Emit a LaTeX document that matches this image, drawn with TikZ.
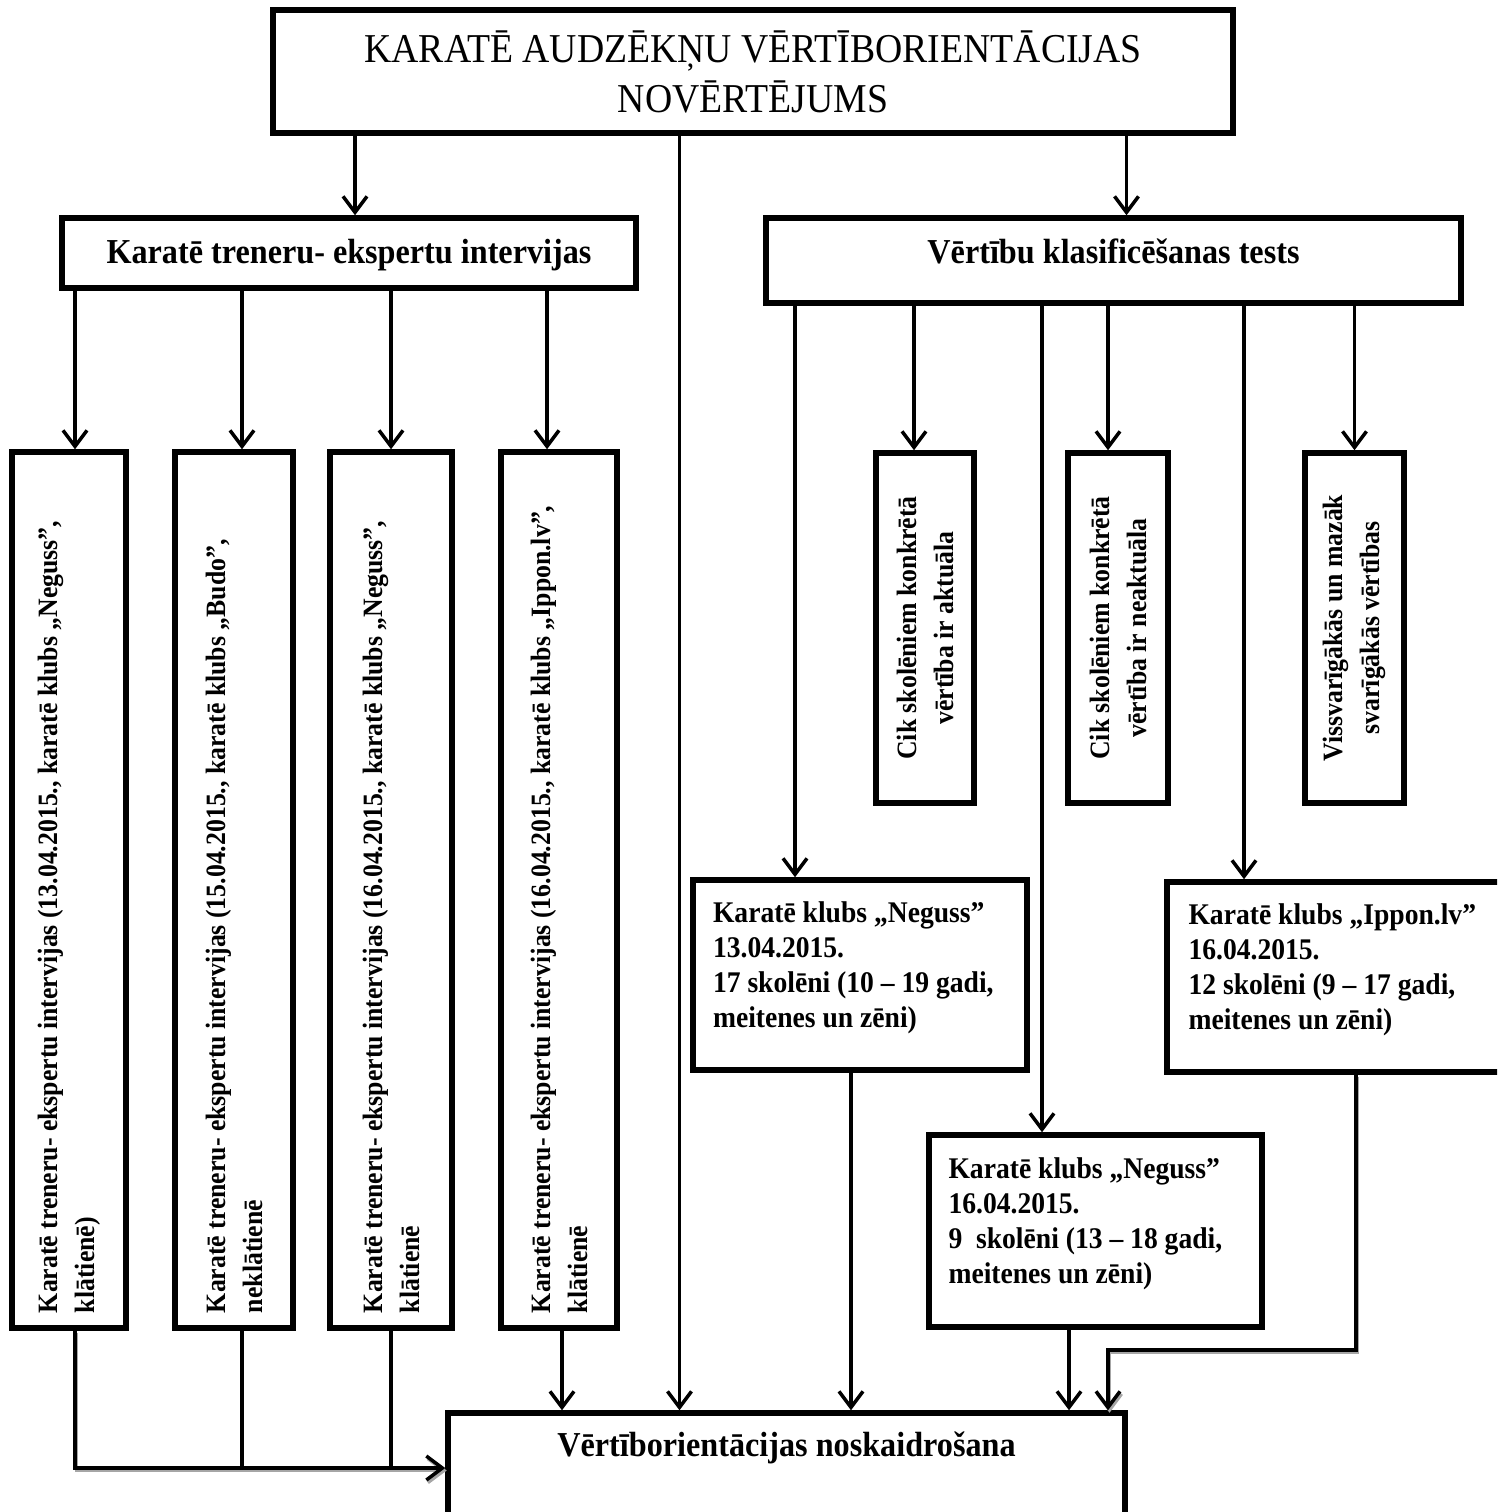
\documentclass[tikz,border=0pt]{standalone}
\usepackage{fontspec}
\setmainfont{Liberation Serif}[FakeStretch=0.92]
\usetikzlibrary{arrows.meta}

\tikzset{every picture/.style={line width=3.5pt}}
\tikzset{
  bloks/.style={draw, line width=5.5pt, inner sep=0pt, font=\bfseries},
  virsbloks/.style={bloks, font=\bfseries\fontsize{35}{42}\selectfont, text height=45pt},
  vertbloks/.style={bloks, font=\bfseries\fontsize{28}{37}\selectfont},
  klubbloks/.style={bloks, font=\bfseries\fontsize{30}{35}\selectfont},
  bulta/.style={-{Straight Barb[length=16pt,width=24pt]}},
  ena/.style={preaction={draw=black!35, transform canvas={xshift=1.5pt,yshift=-2.5pt}}},
}

\begin{document}
\begin{tikzpicture}[x=1pt,y=1pt,yscale=-1]
\useasboundingbox (0,0) rectangle (1497,1512);
\clip (0,0) rectangle (1497,1512);

%Shape: Title
\node[draw, line width=5.5pt, inner sep=0pt, minimum width=960pt, minimum height=123pt, align=center, font=\fontsize{41}{50}\selectfont] (virsraksts) at (753,71.5) {KARATĒ AUDZĒKŅU VĒRTĪBORIENTĀCIJAS\\NOVĒRTĒJUMS};

%Shape: second level
\node[virsbloks, minimum width=574pt, text depth=25pt] (intervijas) at (349,253) {Karatē treneru- ekspertu intervijas};
\node[virsbloks, minimum width=695pt, text depth=40pt] (tests) at (1113.5,260.5) {Vērtību klasificēšanas tests};

%Shape: interview boxes
\node[vertbloks, minimum width=114pt, minimum height=876pt] (int1) at (69,890) {\rotatebox{90}{\parbox{846pt}{\raggedright Karatē treneru- ekspertu intervijas (13.04.2015., karatē klubs „Neguss”,\\klātienē)}}};
\node[vertbloks, minimum width=118pt, minimum height=876pt] (int2) at (234,890) {\rotatebox{90}{\parbox{846pt}{\raggedright Karatē treneru- ekspertu intervijas (15.04.2015., karatē klubs „Budo”,\\neklātienē}}};
\node[vertbloks, minimum width=122pt, minimum height=876pt] (int3) at (391,890) {\rotatebox{90}{\parbox{846pt}{\raggedright Karatē treneru- ekspertu intervijas (16.04.2015., karatē klubs „Neguss”,\\klātienē}}};
\node[vertbloks, minimum width=116pt, minimum height=876pt] (int4) at (559,890) {\rotatebox{90}{\parbox{846pt}{\raggedright Karatē treneru- ekspertu intervijas (16.04.2015., karatē klubs „Ippon.lv”,\\klātienē}}};

%Shape: test boxes
\node[vertbloks, minimum width=98pt, minimum height=350pt] (aktuala) at (925,628) {\rotatebox{90}{\parbox{330pt}{\centering Cik skolēniem konkrētā\\vērtība ir aktuāla}}};
\node[vertbloks, minimum width=100pt, minimum height=350pt] (neaktuala) at (1118,628) {\rotatebox{90}{\parbox{330pt}{\centering Cik skolēniem konkrētā\\vērtība ir neaktuāla}}};
\node[vertbloks, minimum width=99pt, minimum height=350pt] (svarigakas) at (1354.5,628) {\rotatebox{90}{\parbox{330pt}{\centering Vissvarīgākās un mazāk\\svarīgākās vērtības}}};

%Shape: club boxes
\node[klubbloks, minimum width=334pt, minimum height=190pt] (neguss1) at (860,975) {\parbox[c][146pt][t]{294pt}{\raggedright Karatē klubs „Neguss”\\13.04.2015.\\17 skolēni (10 – 19 gadi,\\meitenes un zēni)}};
\node[klubbloks, minimum width=343pt, minimum height=190pt] (ippon) at (1338.5,977) {\parbox[c][146pt][t]{300pt}{\raggedright Karatē klubs „Ippon.lv”\\16.04.2015.\\12 skolēni (9 – 17 gadi,\\meitenes un zēni)}};
\node[klubbloks, minimum width=333pt, minimum height=192pt] (neguss2) at (1095.5,1231) {\parbox[c][146pt][t]{294pt}{\raggedright Karatē klubs „Neguss”\\16.04.2015.\\9\ \ skolēni (13 – 18 gadi,\\meitenes un zēni)}};

%Shape: result
\node[virsbloks, minimum width=677pt, text height=43pt, text depth=67pt] (noskaidrosana) at (786.5,1468) {Vērtīborientācijas noskaidrošana};

%Straight Lines: from title
\draw[bulta] ([xshift=6pt]intervijas.north |- virsraksts.south) -- ([xshift=6pt]intervijas.north);
\draw[bulta] ([xshift=13pt]tests.north |- virsraksts.south) -- ([xshift=13pt]tests.north);
\draw[bulta] ([xshift=-107pt]noskaidrosana.north |- virsraksts.south) -- ([xshift=-107pt]noskaidrosana.north);

%Straight Lines: interviews
\draw[bulta] ([xshift=6pt]int1.north |- intervijas.south) -- ([xshift=6pt]int1.north);
\draw[bulta] ([xshift=8pt]int2.north |- intervijas.south) -- ([xshift=8pt]int2.north);
\draw[bulta] (int3.north |- intervijas.south) -- (int3.north);
\draw[bulta] ([xshift=-12pt]int4.north |- intervijas.south) -- ([xshift=-12pt]int4.north);

\draw[bulta, ena] ([xshift=6pt]int1.south) |- (noskaidrosana.west);
\draw ([xshift=8pt]int2.south) -- ([xshift=8pt]int2.south |- noskaidrosana.west);
\draw (int3.south) -- (int3.south |- noskaidrosana.west);
\draw[bulta] ([xshift=3pt]int4.south) -- ([xshift=3pt]int4.south |- noskaidrosana.north);

%Straight Lines: test
\draw[bulta] ([xshift=-65pt]neguss1.north |- tests.south) -- ([xshift=-65pt]neguss1.north);
\draw[bulta] ([xshift=-11pt]aktuala.north |- tests.south) -- ([xshift=-11pt]aktuala.north);
\draw[bulta] ([xshift=-53.5pt]neguss2.north |- tests.south) -- ([xshift=-53.5pt]neguss2.north);
\draw[bulta] ([xshift=-10pt]neaktuala.north |- tests.south) -- ([xshift=-10pt]neaktuala.north);
\draw[bulta] ([xshift=-94.5pt]ippon.north |- tests.south) -- ([xshift=-94.5pt]ippon.north);
\draw[bulta] (svarigakas.north |- tests.south) -- (svarigakas.north);

%Straight Lines: clubs
\draw[bulta] ([xshift=-9pt]neguss1.south) -- ([xshift=-9pt]neguss1.south |- noskaidrosana.north);
\draw[bulta] ([xshift=-26.5pt]neguss2.south) -- ([xshift=-26.5pt]neguss2.south |- noskaidrosana.north);
\coordinate (ipponlocis) at (1108,1350);
\draw[bulta, ena] ([xshift=17.5pt]ippon.south) |- (ipponlocis) -- (ipponlocis |- noskaidrosana.north);

\end{tikzpicture}
\end{document}
